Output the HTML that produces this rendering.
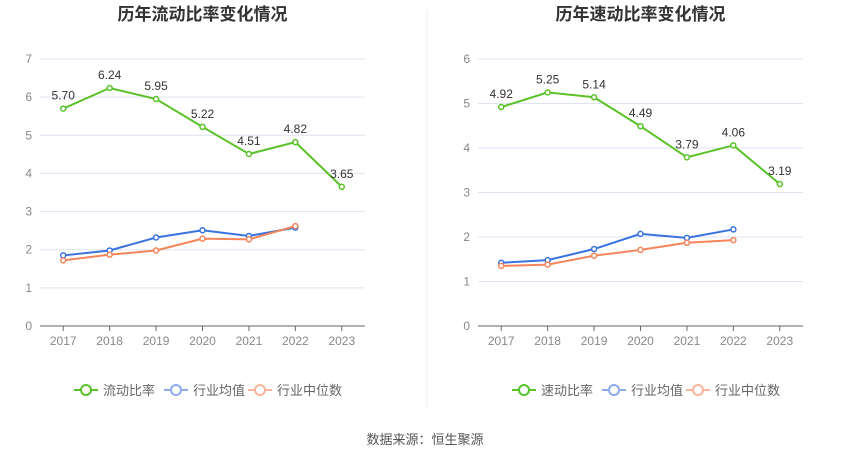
<!DOCTYPE html>
<html><head><meta charset="utf-8"><style>
body{margin:0;background:#fff;}
svg{font-family:"Liberation Sans","Noto Sans CJK SC",sans-serif;}
</style></head><body>
<svg id="c" width="850" height="458">
<line x1="427" y1="10" x2="427" y2="408" stroke="#eee"/>
<text x="425" y="444" text-anchor="middle" font-size="13" fill="#555">数据来源：恒生聚源</text>
</svg>
<script>
const years=["2017","2018","2019","2020","2021","2022","2023"];
const leftMain=[5.70,6.24,5.95,5.22,4.51,4.82,3.65];
const leftAvg=[1.85,1.98,2.32,2.51,2.36,2.58];
const leftMed=[1.72,1.87,1.98,2.29,2.27,2.62];
const leftTicks=[0,1,2,3,4,5,6,7];
const rightMain=[4.92,5.25,5.14,4.49,3.79,4.06,3.19];
const rightAvg=[1.42,1.48,1.73,2.07,1.98,2.17];
const rightMed=[1.35,1.38,1.58,1.71,1.87,1.93];
const rightTicks=[0,1,2,3,4,5,6];
const NS="http://www.w3.org/2000/svg";
const svg=document.getElementById('c');
function mk(t,a,p){const e=document.createElementNS(NS,t);for(const k in a)e.setAttribute(k,a[k]);(p||svg).appendChild(e);return e;}
function chart(x0,x1,title,main,avg,med,ticks,mainName,key){
  const g=mk('g',{});
  
  
  const top=59,bot=326,max=ticks[ticks.length-1];
  const y=v=>bot-(v/max)*(bot-top);
  const step=(x1-x0)/years.length;
  const x=i=>x0+step*(i+0.5);
  const t=mk('text',{x:(x0+x1)/2,y:20,'text-anchor':'middle','font-size':17,'font-weight':'bold',fill:'#333'},g);t.textContent=title;
  
  
  ticks.forEach(v=>{
    if(v>0){const l=mk('line',{x1:x0,x2:x1,y1:y(v),y2:y(v),stroke:'#dde3ef'},g);
    
    }
    const tl=mk('text',{x:x0-8,y:y(v)+4,'text-anchor':'end','font-size':12,fill:'#888'},g);tl.textContent=v;
    
    
  });
  const ax=mk('line',{x1:x0,x2:x1,y1:bot,y2:bot,stroke:'#666'},g);
  
  
  years.forEach((yr,i)=>{
    mk('line',{x1:x(i),x2:x(i),y1:bot,y2:bot+5,stroke:'#666'},g);
    const tl=mk('text',{x:x(i),y:bot+19,'text-anchor':'middle','font-size':12,fill:'#888'},g);tl.textContent=yr;
    
    
  });
  function series(vals,col,name,labels){
    const p=mk('polyline',{points:vals.map((v,i)=>x(i)+','+y(v)).join(' '),fill:'none',stroke:col,'stroke-width':2},g);
    
    
    vals.forEach((v,i)=>{
      const c=mk('circle',{cx:x(i),cy:y(v),r:2.5,fill:'#fff',stroke:col,'stroke-width':1.5},g);
      
      
      if(labels){const l=mk('text',{x:x(i),y:y(v)-9,'text-anchor':'middle','font-size':12,fill:'#333'},g);l.textContent=v.toFixed(2);
      
      }
    });
  }
  series(avg,'#3a72e0','industry-avg');
  series(med,'#f5845a','industry-median');
  series(main,'#5ac228','main',true);
  const lg=[[mainName,'#5ac228','#5ac228'],['行业均值','#8cacef','#8cacef'],['行业中位数','#f9b59b','#f9b59b']];
  const starts=[x0+34,x0+124,x0+208];
  lg.forEach((e,i)=>{
    const gg=mk('g',{},g);
    
    
    const lx=starts[i];
    mk('line',{x1:lx,x2:lx+24,y1:390,y2:390,stroke:e[1],'stroke-width':2},gg);
    mk('circle',{cx:lx+12,cy:390,r:5,fill:'#fff',stroke:e[1],'stroke-width':2},gg);
    const tt=mk('text',{x:lx+29,y:395,'font-size':13,fill:'#666'},gg);tt.textContent=e[0];
  });
}
chart(40,365,'历年流动比率变化情况',leftMain,leftAvg,leftMed,leftTicks,'流动比率','left');
chart(478,803,'历年速动比率变化情况',rightMain,rightAvg,rightMed,rightTicks,'速动比率','right');
</script>
</body></html>
